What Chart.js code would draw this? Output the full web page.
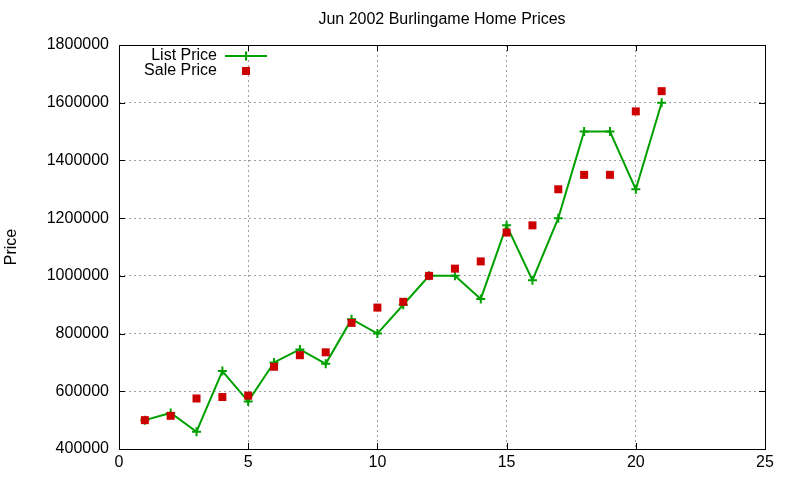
<!DOCTYPE html>
<html>
<head>
<meta charset="utf-8">
<script src="https://cdn.jsdelivr.net/npm/chart.js@4"></script>
<style>
  html, body { margin: 0; padding: 0; background: #fff; }
  #wrap { width: 800px; height: 480px; }
</style>
</head>
<body>
<div id="wrap"><canvas id="myChart"></canvas></div>
<script>
const houses = [1, 2, 3, 4, 5, 6, 7, 8, 9, 10, 11, 12, 13, 14, 15, 16, 17, 18, 19, 20, 21];
const listPrice = [500000, 525000, 460000, 670000, 565000, 700000, 745000, 695000, 850000, 800000,
    900000, 1000000, 1000000, 920000, 1175000, 985000, 1200000, 1500000, 1500000, 1300000, 1600000];
const salePrice = [500000, 515000, 575000, 580000, 585000, 685000, 725000, 735000, 837000, 890000,
    910000, 1000000, 1025000, 1050000, 1150000, 1175000, 1300000, 1350000, 1350000, 1570000, 1640000];
const xTicks = [0, 5, 10, 15, 20, 25];
const yTicks = [400000, 600000, 800000, 1000000, 1200000, 1400000, 1600000, 1800000];

const FONT = '"Liberation Sans", Arial, sans-serif';
const GREEN = '#00a000';
const RED = '#cc0000';

// gnuplot look: full border, inward mirrored ticks, title and key inside the plot
const gnuplotFrame = {
    id: 'gnuplotFrame',
    afterDatasetsDraw(chart) {
        const { ctx, chartArea: a, scales: { x, y } } = chart;
        ctx.save();
        ctx.strokeStyle = '#000';
        ctx.lineWidth = 1;
        ctx.beginPath();
        xTicks.forEach(v => {
            const px = Math.round(x.getPixelForValue(v)) + 0.5;
            ctx.moveTo(px, a.bottom); ctx.lineTo(px, a.bottom - 6);
            ctx.moveTo(px, a.top); ctx.lineTo(px, a.top + 6);
        });
        yTicks.forEach(v => {
            const py = Math.round(y.getPixelForValue(v)) + 0.5;
            ctx.moveTo(a.left, py); ctx.lineTo(a.left + 6, py);
            ctx.moveTo(a.right, py); ctx.lineTo(a.right - 6, py);
        });
        ctx.stroke();
        ctx.strokeRect(Math.round(a.left) + 0.5, Math.round(a.top) + 0.5,
            Math.round(a.right - a.left), Math.round(a.bottom - a.top));

        ctx.fillStyle = '#000';
        ctx.font = '16px ' + FONT;
        ctx.textAlign = 'center';
        ctx.textBaseline = 'middle';
        ctx.fillText('Jun 2002 Burlingame Home Prices', (a.left + a.right) / 2, 20);

        // key
        ctx.textAlign = 'right';
        ctx.fillText('List Price', 217, 56);
        ctx.fillText('Sale Price', 217, 71);
        ctx.strokeStyle = GREEN;
        ctx.lineWidth = 2;
        ctx.beginPath();
        ctx.moveTo(225, 56); ctx.lineTo(267, 56);
        ctx.moveTo(246, 51.5); ctx.lineTo(246, 60.5);
        ctx.stroke();
        ctx.fillStyle = RED;
        ctx.fillRect(242, 67, 8, 8);
        ctx.restore();
    }
};

const ctx = document.getElementById('myChart');

new Chart(ctx, {
    type: 'scatter',
    data: {
        datasets: [
            {
                label: 'List Price',
                data: houses.map((h, i) => ({ x: h, y: listPrice[i] })),
                showLine: true,
                borderColor: GREEN,
                backgroundColor: GREEN,
                borderWidth: 2,
                pointStyle: 'cross',
                pointRadius: 4.5,
                pointBorderWidth: 2,
                order: 2
            },
            {
                label: 'Sale Price',
                data: houses.map((h, i) => ({ x: h, y: salePrice[i] })),
                borderColor: RED,
                backgroundColor: RED,
                pointStyle: 'rect',
                pointRadius: 5.66,
                pointBorderWidth: 0,
                order: 1
            }]
    },
    options: {
        responsive: true,
        maintainAspectRatio: false,
        animation: false,
        layout: { padding: { top: 45, right: 35, left: 0, bottom: 0 } },
        plugins: {
            legend: { display: false },
            title: { display: false },
            tooltip: { enabled: false }
        },
        scales: {
            x: {
                type: 'linear',
                min: 0,
                max: 25,
                afterFit: s => { s.height = 31; },
                afterBuildTicks: s => { s.ticks = xTicks.map(v => ({ value: v })); },
                ticks: { color: '#000', font: { family: FONT, size: 16 }, padding: 4 },
                grid: { color: '#a0a0a0', drawTicks: false, lineWidth: 1 },
                border: { display: false, dash: [2, 3] }
            },
            y: {
                min: 400000,
                max: 1800000,
                afterFit: s => { s.width = 119; },
                afterBuildTicks: s => { s.ticks = yTicks.map(v => ({ value: v })); },
                ticks: { color: '#000', font: { family: FONT, size: 16 }, padding: 10, callback: v => String(v) },
                title: { display: true, text: 'Price', color: '#000', font: { family: FONT, size: 16 }, padding: { top: 2, bottom: 0 } },
                grid: { color: '#a0a0a0', drawTicks: false, lineWidth: 1 },
                border: { display: false, dash: [2, 3] }
            }
        }
    },
    plugins: [gnuplotFrame]
});
</script>
</body>
</html>
